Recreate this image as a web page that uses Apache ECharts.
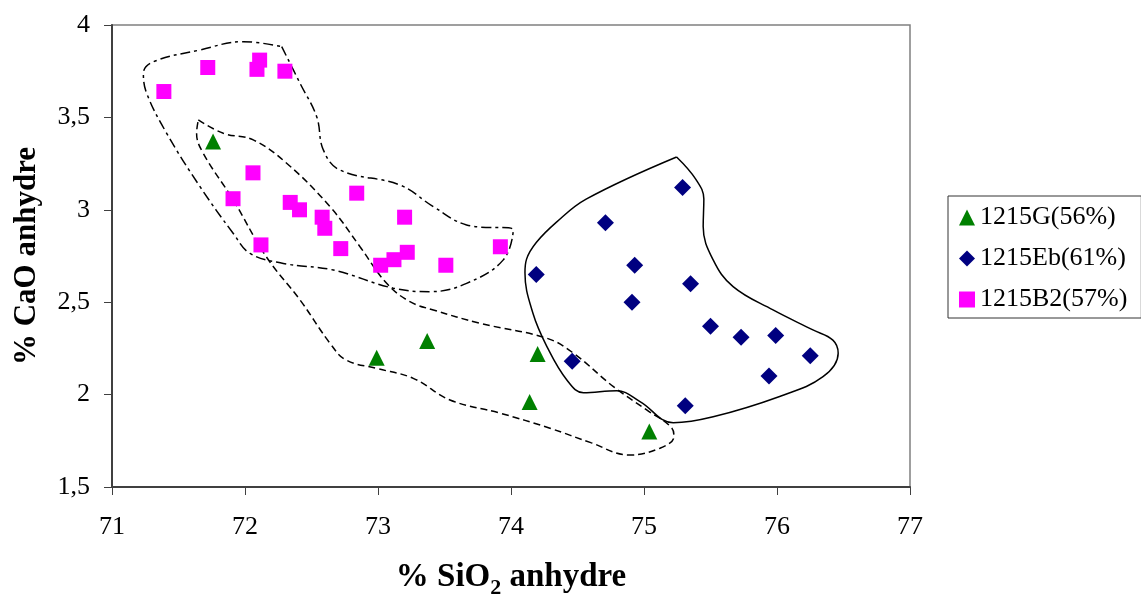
<!DOCTYPE html>
<html>
<head>
<meta charset="utf-8">
<script src="https://cdn.jsdelivr.net/npm/echarts@6/dist/echarts.min.js"></script>
<style>
html,body{margin:0;padding:0;background:#fff;}
#chart{width:1141px;height:594px;}
</style>
</head>
<body>
<div id="chart"></div>
<script>
// ---- data ----
const xRange = [71, 77, 1];      // min, max, interval
const yRange = [1.5, 4, 0.5];
const seriesNames = ['1215G(56%)', '1215Eb(61%)', '1215B2(57%)'];

const g56 = [[71.76,3.37],[72.99,2.20],[73.37,2.29],[74.20,2.22],[74.14,1.96],[75.04,1.80]];
const eb61 = [[75.29,3.12],[74.71,2.93],[74.19,2.65],[74.93,2.70],[75.35,2.60],[74.91,2.50],
  [75.50,2.37],[75.73,2.31],[75.99,2.32],[76.25,2.21],[75.94,2.10],[74.46,2.18],[75.31,1.94]];
const b2 = [[71.39,3.64],[71.72,3.77],[72.11,3.81],[72.09,3.76],[72.30,3.75],[72.06,3.20],
  [71.91,3.06],[72.34,3.04],[72.41,3.00],[72.58,2.96],[72.60,2.90],[72.12,2.81],[72.72,2.79],
  [72.84,3.09],[73.20,2.96],[73.22,2.77],[73.12,2.73],[73.02,2.70],[73.51,2.70],[73.92,2.80]];

// envelope outlines (closed)
const envEb = [[75.245,3.286],[74.565,3.058],[74.34,2.932],[74.19,2.823],[74.117,2.733],[74.105,2.66],
  [74.165,2.44],[74.27,2.26],[74.42,2.079],[74.545,2.01],[74.795,2.021],[74.97,1.962],[75.22,1.848],
  [75.52,1.88],[76.02,1.99],[76.346,2.097],[76.46,2.224],[76.42,2.295],[76.27,2.35],[75.97,2.458],
  [75.67,2.584],[75.52,2.729],[75.445,2.909],[75.45,3.058],[75.39,3.165],[75.245,3.286]];
const envG = [[71.649,3.486],[71.837,3.414],[72.062,3.378],[72.313,3.252],[72.639,3.017],[72.865,2.8],
  [73.065,2.602],[73.24,2.503],[73.416,2.458],[73.767,2.386],[74.27,2.305],[74.47,2.224],[74.77,2.043],
  [75.02,1.917],[75.21,1.818],[75.225,1.772],[75.12,1.71],[74.89,1.673],[74.6,1.74],[74.293,1.818],
  [73.917,1.9],[73.541,1.971],[73.265,2.088],[72.99,2.142],[72.76,2.187],[72.64,2.277],[72.414,2.512],
  [72.16,2.746],[71.912,3.053],[71.686,3.306],[71.636,3.414],[71.649,3.486]];
const envB2 = [[72.276,3.883],[72.414,3.684],[72.539,3.504],[72.589,3.324],[72.714,3.215],[73.165,3.134],
  [73.416,3.017],[73.666,2.918],[74.017,2.891],[73.942,2.729],[73.666,2.602],[73.39,2.557],[73.115,2.576],
  [72.664,2.674],[72.288,2.71],[72.038,2.764],[71.912,2.872],[71.662,3.125],[71.411,3.414],[71.261,3.63],
  [71.236,3.739],[71.311,3.801],[71.662,3.865],[71.987,3.91],[72.276,3.883]];

// ---- chart ----
const FONT = 'Liberation Serif';
const chart = echarts.init(document.getElementById('chart'), null, {renderer: 'canvas'});

function envelope(data, dash) {
  return {
    type: 'line', data: data, symbol: 'none', smooth: 0.4, silent: true,
    lineStyle: {color: '#000', width: 1.5, type: dash},
    z: 1, legendHoverLink: false, tooltip: {show: false}
  };
}

chart.setOption({
  animation: false,
  backgroundColor: '#fff',
  grid: {left: 112, top: 25, right: 231, bottom: 107, show: true, borderColor: '#808080', borderWidth: 1.5,
    containLabel: false, outerBoundsMode: 'none'},
  legend: {
    data: seriesNames,
    orient: 'vertical',
    left: 948, top: 196,
    width: 192,
    padding: [8, 14, 5, 11],
    itemGap: 14,
    itemWidth: 16, itemHeight: 16,
    borderColor: '#333', borderWidth: 1, borderRadius: 0,
    backgroundColor: '#fff',
    textStyle: {fontFamily: FONT, fontSize: 26, color: '#000', lineHeight: 27},
    selectedMode: false
  },
  xAxis: {
    type: 'value', min: xRange[0], max: xRange[1], interval: xRange[2],
    axisLine: {show: true, onZero: false, lineStyle: {color: '#404040', width: 2}},
    axisTick: {show: true, length: 8, inside: false, lineStyle: {color: '#404040', width: 1}},
    splitLine: {show: false},
    axisLabel: {fontFamily: FONT, fontSize: 26, color: '#000', margin: 27},
    name: '{t|% SiO}{s|2}{t| anhydre}',
    nameLocation: 'middle', nameGap: 74,
    nameTextStyle: {
      rich: {
        t: {fontFamily: FONT, fontSize: 33, fontWeight: 'bold', color: '#000', lineHeight: 38, verticalAlign: 'top'},
        s: {fontFamily: FONT, fontSize: 22, fontWeight: 'bold', color: '#000', lineHeight: 22, verticalAlign: 'bottom'}
      }
    }
  },
  yAxis: {
    type: 'value', min: yRange[0], max: yRange[1], interval: yRange[2],
    axisLine: {show: true, onZero: false, lineStyle: {color: '#404040', width: 2}},
    axisTick: {show: true, length: 8, inside: false, lineStyle: {color: '#404040', width: 1}},
    splitLine: {show: false},
    axisLabel: {fontFamily: FONT, fontSize: 26, color: '#000', margin: 22,
      formatter: v => String(v).replace('.', ',')},
    name: '% CaO anhydre',
    nameLocation: 'middle', nameGap: 70,
    nameTextStyle: {fontFamily: FONT, fontSize: 31, fontWeight: 'bold', color: '#000'}
  },
  series: [
    envelope(envB2, [10, 4, 3, 4]),
    envelope(envG, [7, 4]),
    envelope(envEb, 'solid'),
    {name: seriesNames[0], type: 'scatter', data: g56, symbol: 'triangle', symbolSize: 16,
     itemStyle: {color: '#008000', opacity: 1}, z: 3},
    {name: seriesNames[1], type: 'scatter', data: eb61, symbol: 'diamond', symbolSize: 17,
     itemStyle: {color: '#000080', opacity: 1}, z: 3},
    {name: seriesNames[2], type: 'scatter', data: b2, symbol: 'rect', symbolSize: 15,
     itemStyle: {color: '#FF00FF', opacity: 1}, z: 3}
  ]
});
</script>
</body>
</html>
